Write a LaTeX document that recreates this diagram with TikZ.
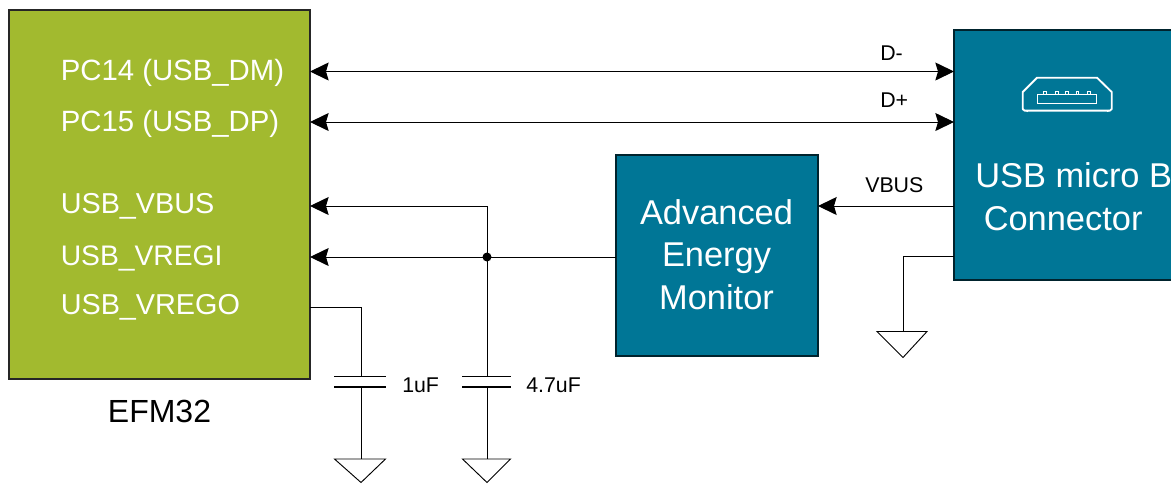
\documentclass[tikz,border=0pt]{standalone}
\usepackage{fontspec}
\setmainfont{Liberation Sans}
\usetikzlibrary{arrows.meta}
\definecolor{efmgreen}{HTML}{A2BA2F}
\definecolor{siteal}{HTML}{007696}
\tikzset{
  x=0.75pt,y=-0.75pt,
  pin/.style={anchor=base west,text=white,font=\fontsize{#1}{26}\selectfont,inner sep=0},
  pin/.default=22,
  big/.style={text=white,font=\fontsize{25.8}{31.5}\selectfont,inner sep=0,anchor=base west},
  small/.style={anchor=base west,font=\fontsize{16}{19}\selectfont,inner sep=0},
  wire/.style={line width=0.75pt,black},
  tip/.style={-{Stealth[length=14pt,width=13.5pt,inset=2pt]}},
  tips/.style={{Stealth[length=14pt,width=13.5pt,inset=2pt]}-{Stealth[length=14pt,width=13.5pt,inset=2pt]}},
  plate/.style={line width=0.8pt,black},
  gnd/.style={line width=0.7pt,black,line join=miter},
  usbicon/.style={draw=white,line width=1.4pt,line join=round},
}
\begin{document}
\begin{tikzpicture}
\useasboundingbox (0,0) rectangle (1171,483);
% blocks
\fill[efmgreen] (9,10) rectangle (310,379);
\draw[line width=0.85pt,black!85] (9,10) rectangle (310,379);
\node[pin] (p1) at (60.5,80) {PC14 (USB\_DM)};
\node[pin] (p2) at (60.5,131) {PC15 (USB\_DP)};
\node[pin=21.6] (p3) at (60.5,213.5) {USB\_VBUS};
\node[pin=21.2] (p4) at (60.5,265) {USB\_VREGI};
\node[pin=21.6] (p5) at (60.5,314.5) {USB\_VREGO};
\node[anchor=base,font=\fontsize{24}{28}\selectfont,inner sep=0] (efmlabel) at (159.5,422) {EFM32};
% AEM
\fill[siteal] (616,155) rectangle (818,356);
\draw[line width=0.85pt,black!70!siteal] (616,155) rectangle (818,356);
\node[big,anchor=base] (aem1) at (716.5,224.5) {Advanced};
\node[big,anchor=base] (aem2) at (716.5,266.5) {Energy};
\node[big,anchor=base] (aem3) at (716.5,309) {Monitor};
% USB
\fill[siteal] (954,30) rectangle (1180,280);
\draw[line width=0.85pt,black!70!siteal] (1180,30) -- (954,30) -- (954,280) -- (1180,280);
\node[big] (usb1) at (975,187) {USB micro B};
\node[big] (usb2) at (983.5,230.5) {Connector};
% USB icon
\draw[usbicon] (1022.7,92) -- (1037,77.7) -- (1097,77.7) -- (1111.7,92) -- (1111.7,109) -- (1110,110.6) -- (1024.5,110.6) -- (1022.7,109) -- cycle;
\draw[white,line width=1pt] (1026,110.6) -- (1028,111.4);
\draw[white,line width=1pt] (1107,111.4) -- (1109,110.6);
\draw[white,line width=0.7pt] (1037.3,94.3) rectangle (1096.7,103.3);
\foreach \i in {1045,1056.7,1067,1077.3,1088.7}
  \draw[white,line width=0.7pt] (\i-1.3,91.3) rectangle (\i+1.3,94.3);
% bus wires
\coordinate (usbD1) at (954,71.5);
\coordinate (efmD1) at (310,71.5);
\coordinate (usbD2) at (954,122);
\coordinate (efmD2) at (310,122);
\draw[wire,tips] (efmD1) -- (usbD1);
\draw[wire,tips] (efmD2) -- (usbD2);
\node[small] (dm) at (880,60) {D-};
\node[small] (dp) at (880,107) {D+};
% VBUS
\coordinate (usbV) at (954,206);
\coordinate (aemV) at (818,206);
\draw[wire,tip] (usbV) -- (aemV);
\node[small] (vb) at (865,192) {VBUS};
% USB ground
\coordinate (ugs) at (954,256.7);
\coordinate (ug) at (903,331.5);
\draw[wire] (ugs) -| (ug);
\draw[gnd] (877,331.5) -- (927,331.5) -- (903,357.5) -- cycle;
% VREGI / VBUS
\coordinate (aemR) at (616,257);
\coordinate (efmR) at (310,257);
\coordinate (efmB) at (310,206);
\coordinate (jn) at (487,257);
\draw[wire,tip] (aemR) -- (efmR);
\draw[wire,tip] (jn) |- (efmB);
\fill[black] (jn) circle (4.5);
\coordinate (c2t) at (487,376.5);
\coordinate (c2b) at (487,387);
\coordinate (c2g) at (487,459);
\draw[wire] (jn) -- (c2t);
\draw[plate] (462,376.5) -- (511,376.5);
\draw[plate] (462,387) -- (511,387);
\draw[wire] (c2b) -- (c2g);
\draw[gnd] (462.5,459) -- (510.5,459) -- (487,482.5) -- cycle;
\node[small] (c2l) at (526,392) {4.7uF};
% VREGO
\coordinate (efmO) at (310,307);
\coordinate (c1t) at (361,376.5);
\coordinate (c1b) at (361,387);
\coordinate (c1g) at (361,459);
\draw[wire] (efmO) -| (c1t);
\draw[plate] (334,376.5) -- (385.5,376.5);
\draw[plate] (334,387) -- (385.5,387);
\draw[wire] (c1b) -- (c1g);
\draw[gnd] (334.5,459) -- (385.5,459) -- (361,482.5) -- cycle;
\node[small] (c1l) at (402,392) {1uF};
\end{tikzpicture}
\end{document}
